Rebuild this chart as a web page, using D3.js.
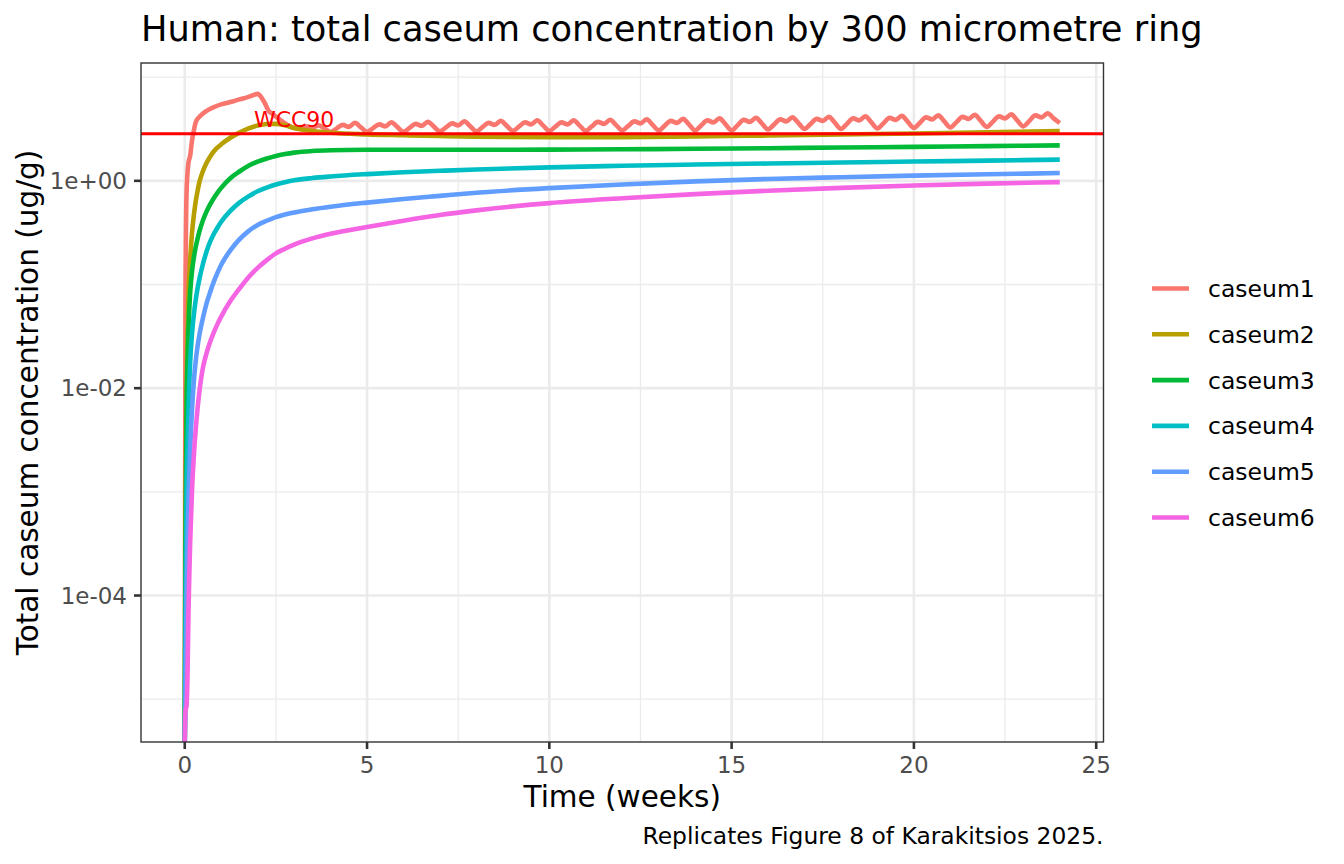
<!DOCTYPE html>
<html><head><meta charset="utf-8">
<script src="https://cdn.jsdelivr.net/npm/d3@7"></script>
<style>
body{margin:0;background:#fff;}
text{font-family:"DejaVu Sans",sans-serif;}
</style>
</head><body>
<svg id="chart" width="1344" height="864"></svg>
<script>
// ---------------- DATA ----------------
const seriesNames = ["caseum1","caseum2","caseum3","caseum4","caseum5","caseum6"];
const seriesColors = ["#F8766D","#B79F00","#00BA38","#00BFC4","#619CFF","#F564E3"];

// shared sampling times (weeks) for the smooth series caseum2..caseum6
const timeSmooth = [0,0.02,0.05,0.075,0.1,0.125,0.15,0.2,0.25,0.3,0.35,0.4,0.5,0.6,0.7,0.8,0.9,1,1.25,1.5,1.75,2,2.25,2.5,2.75,3,3.5,4,5,6,7,8,10,12,14,16,18,20,22,24];
const caseum2 = [0,5.012e-4,0.01,0.03162,0.07079,0.1202,0.1778,0.3162,0.4677,0.6310,0.7943,0.9661,1.245,1.496,1.718,1.928,2.099,2.249,2.600,2.917,3.199,3.412,3.532,3.540,3.428,3.236,3.020,2.904,2.805,2.754,2.704,2.661,2.630,2.642,2.685,2.735,2.799,2.864,2.938,3.020];
const caseum3 = [0,2.512e-4,0.00631,0.01778,0.03548,0.05888,0.08511,0.1349,0.1820,0.2291,0.2754,0.3236,0.4169,0.5070,0.5957,0.6839,0.7709,0.8551,1.059,1.230,1.396,1.531,1.641,1.738,1.811,1.871,1.941,1.972,1.991,1.995,1.995,1.995,2.000,2.014,2.037,2.065,2.094,2.128,2.163,2.198];
const caseum4 = [0,5.012e-5,1.0e-3,2.512e-3,5.623e-3,0.01096,0.01820,0.03388,0.05129,0.07079,0.09120,0.1122,0.1585,0.2089,0.2600,0.3090,0.3548,0.4027,0.5129,0.6166,0.7079,0.7943,0.8610,0.9226,0.9705,1.012,1.064,1.102,1.161,1.211,1.250,1.288,1.349,1.396,1.436,1.469,1.503,1.535,1.567,1.600];
const caseum5 = [0,1.0e-5,1.0e-4,3.162e-4,7.413e-4,1.479e-3,2.630e-3,6.310e-3,0.01175,0.01820,0.02512,0.03236,0.04786,0.06607,0.08511,0.1072,0.1303,0.1549,0.2138,0.2723,0.3273,0.3758,0.4121,0.4467,0.4732,0.4955,0.5309,0.5623,0.6166,0.6683,0.7161,0.7674,0.8511,0.9226,0.9886,1.042,1.084,1.122,1.156,1.189];
const caseum6 = [0,7.67e-6,8.71e-6,1.66e-5,6.31e-5,1.585e-4,3.39e-4,1.047e-3,2.239e-3,3.981e-3,6.31e-3,9.12e-3,0.01585,0.02188,0.02818,0.03467,0.04169,0.04898,0.06918,0.09120,0.1175,0.1445,0.1718,0.1995,0.2213,0.2427,0.2786,0.3090,0.3589,0.4121,0.4677,0.5188,0.6095,0.6792,0.7447,0.8035,0.8551,0.9016,0.9397,0.9727];

// caseum1: loading phase times, then a weekly dosing grid (6 samples per week, weeks 3..23, plus week 24)
const caseum1EarlyTimes = [0,0.01,0.02,0.05,0.1,0.15,0.2,0.25,0.3,0.4,0.5,0.6,0.8,1,1.25,1.5,1.75,2,2.1,2.2,2.3,2.4,2.6,2.8];
const caseum1WeekStarts = [3,4,5,6,7,8,9,10,11,12,13,14,15,16,17,18,19,20,21,22,23];
const caseum1WeekOffsets = [0,1/6,1/3,1/2,2/3,5/6];
const caseum1EndTime = 24;
const caseum1 = [
  0,8.3e-4,0.0705,0.775,1.475,1.762,2.456,3.067,3.662,4.137,4.471,4.73,5.145,5.46,5.75,6.10,6.45,6.90,6.38,5.58,4.73,4.44,3.91,3.50,
  3.242,3.278,3.352,3.242,3.427,3.206,
  2.967,3.206,3.465,3.315,3.622,3.278,
  2.967,3.224,3.504,3.352,3.662,3.297,
  2.967,3.242,3.543,3.390,3.703,3.333,
  3.000,3.278,3.582,3.427,3.744,3.352,
  3.000,3.297,3.622,3.465,3.786,3.390,
  3.033,3.333,3.662,3.504,3.828,3.408,
  3.033,3.333,3.662,3.504,3.828,3.408,
  3.033,3.352,3.703,3.543,3.871,3.446,
  3.067,3.390,3.744,3.582,3.914,3.465,
  3.067,3.408,3.786,3.622,3.958,3.484,
  3.067,3.427,3.828,3.662,4.002,3.504,
  3.067,3.446,3.871,3.703,4.046,3.562,
  3.136,3.504,3.914,3.744,4.091,3.602,
  3.171,3.543,3.958,3.786,4.137,3.622,
  3.171,3.562,4.002,3.828,4.183,3.662,
  3.206,3.602,4.046,3.871,4.230,3.703,
  3.242,3.642,4.091,3.914,4.277,3.744,
  3.278,3.683,4.137,3.958,4.325,3.786,
  3.315,3.724,4.183,4.002,4.373,3.828,
  3.352,3.786,4.277,4.091,4.471,4.000,
  3.61
];

const wcc90 = 2.85;
const wccLabel = "WCC90";
const wccLabelTime = 3;

const xTickValues = [0,5,10,15,20,25];
const yTickValues = [1e-4,1e-2,1];
const yTickLabels = ["1e-04","1e-02","1e+00"];

const titleText = "Human: total caseum concentration by 300 micrometre ring";
const xTitle = "Time (weeks)";
const yTitle = "Total caseum concentration (ug/g)";
const captionText = "Replicates Figure 8 of Karakitsios 2025.";

// ---------------- BUILD ----------------
const caseum1Times = caseum1EarlyTimes
  .concat(caseum1WeekStarts.flatMap(w => caseum1WeekOffsets.map(o => w + o)))
  .concat([caseum1EndTime]);

const seriesValues = [caseum1, caseum2, caseum3, caseum4, caseum5, caseum6];
const seriesTimes = [caseum1Times, timeSmooth, timeSmooth, timeSmooth, timeSmooth, timeSmooth];
const series = seriesNames.map((n, i) => ({
  name: n, color: seriesColors[i],
  pts: seriesTimes[i].map((t, j) => ({t, v: seriesValues[i][j]}))
}));

const P = {left: 141, right: 1103.5, top: 63, bottom: 742};

const allT = series.flatMap(s => s.pts.map(p => p.t));
const tExt = d3.extent(allT);
const tPad = (tExt[1] - tExt[0]) * 0.05;
const x = d3.scaleLinear().domain([tExt[0] - tPad, tExt[1] + tPad]).range([P.left, P.right]);

const posVals = series.flatMap(s => s.pts.map(p => p.v)).concat([wcc90]).filter(v => v > 0);
const lLo = Math.log10(d3.min(posVals)), lHi = Math.log10(d3.max(posVals));
const lPad = (lHi - lLo) * 0.05;
const y = d3.scaleLog().domain([10 ** (lLo - lPad), 10 ** (lHi + lPad)]).range([P.bottom, P.top]);
const yPos = v => v > 0 ? y(v) : P.bottom;   // zero (log -Inf) is squished to the panel edge

const svg = d3.select("#chart");
svg.append("rect").attr("width",1344).attr("height",864).attr("fill","#fff");

const defs = svg.append("defs");
defs.append("clipPath").attr("id","panelClip").append("rect")
  .attr("x",P.left).attr("y",P.top).attr("width",P.right-P.left).attr("height",P.bottom-P.top);

// grid
const grid = svg.append("g");
const xMinor = d3.range(xTickValues.length - 1).map(i => (xTickValues[i] + xTickValues[i+1]) / 2)
  .filter(v => v >= x.domain()[0] && v <= x.domain()[1]);
const yLogTicks = yTickValues.map(Math.log10);
const yStep = yLogTicks[1] - yLogTicks[0];
const yMinor = [yLogTicks[0] - yStep/2].concat(yLogTicks.map(l => l + yStep/2)).map(l => 10 ** l)
  .filter(v => v >= y.domain()[0] && v <= y.domain()[1]);

grid.selectAll(".xmin").data(xMinor).enter().append("line")
  .attr("x1",d=>x(d)).attr("x2",d=>x(d)).attr("y1",P.top).attr("y2",P.bottom)
  .attr("stroke","#EBEBEB").attr("stroke-width",1.3);
grid.selectAll(".ymin").data(yMinor).enter().append("line")
  .attr("x1",P.left).attr("x2",P.right).attr("y1",d=>y(d)).attr("y2",d=>y(d))
  .attr("stroke","#EBEBEB").attr("stroke-width",1.3);
grid.selectAll(".xmaj").data(xTickValues.filter(v => v >= x.domain()[0] && v <= x.domain()[1])).enter().append("line")
  .attr("x1",d=>x(d)).attr("x2",d=>x(d)).attr("y1",P.top).attr("y2",P.bottom)
  .attr("stroke","#EBEBEB").attr("stroke-width",2.6);
grid.selectAll(".ymaj").data(yTickValues).enter().append("line")
  .attr("x1",P.left).attr("x2",P.right).attr("y1",d=>y(d)).attr("y2",d=>y(d))
  .attr("stroke","#EBEBEB").attr("stroke-width",2.6);

// lines
const line = d3.line().x(d => x(d.t)).y(d => yPos(d.v)).curve(d3.curveMonotoneX);
const lines = svg.append("g").attr("clip-path","url(#panelClip)");
series.forEach(s => {
  lines.append("path").datum(s.pts).attr("d", line)
    .attr("fill","none").attr("stroke", s.color).attr("stroke-width",4.6)
    .attr("stroke-linejoin","round").attr("stroke-linecap","butt");
});

// WCC90 reference line and label
lines.append("line").attr("x1",P.left).attr("x2",P.right)
  .attr("y1",y(wcc90)).attr("y2",y(wcc90)).attr("stroke","#FF0000").attr("stroke-width",3);
lines.append("text").attr("x",x(wccLabelTime)).attr("y",y(wcc90)-6.5)
  .attr("text-anchor","middle").attr("fill","#FF0000").attr("font-size",22).text(wccLabel);

// panel border
svg.append("rect").attr("x",P.left).attr("y",P.top).attr("width",P.right-P.left).attr("height",P.bottom-P.top)
  .attr("fill","none").attr("stroke","#333333").attr("stroke-width",1.4);

// axes
const ax = svg.append("g");
xTickValues.forEach(v => {
  ax.append("line").attr("x1",x(v)).attr("x2",x(v)).attr("y1",P.bottom).attr("y2",P.bottom+7)
    .attr("stroke","#333333").attr("stroke-width",2.6);
  ax.append("text").attr("x",x(v)).attr("y",773).attr("text-anchor","middle")
    .attr("fill","#4D4D4D").attr("font-size",23).text(v);
});
yTickValues.forEach((v,i) => {
  ax.append("line").attr("x1",P.left-7).attr("x2",P.left).attr("y1",y(v)).attr("y2",y(v))
    .attr("stroke","#333333").attr("stroke-width",2.6);
  ax.append("text").attr("x",P.left-14).attr("y",y(v)).attr("dy","0.36em").attr("text-anchor","end")
    .attr("fill","#4D4D4D").attr("font-size",23).text(yTickLabels[i]);
});

// titles
svg.append("text").attr("x",P.left).attr("y",41).attr("font-size",35.2).attr("fill","#000").text(titleText);
svg.append("text").attr("x",(P.left+P.right)/2).attr("y",807).attr("text-anchor","middle")
  .attr("font-size",29.5).attr("fill","#000").text(xTitle);
svg.append("text").attr("transform",`translate(38,${(P.top+P.bottom)/2}) rotate(-90)`)
  .attr("text-anchor","middle").attr("font-size",29.5).attr("fill","#000").text(yTitle);
svg.append("text").attr("x",P.right).attr("y",844).attr("text-anchor","end")
  .attr("font-size",23.4).attr("fill","#000").text(captionText);

// legend
const leg = svg.append("g");
series.forEach((s,i) => {
  const cy = 288.5 + i*45.8;
  leg.append("line").attr("x1",1152).attr("x2",1189).attr("y1",cy).attr("y2",cy)
    .attr("stroke",s.color).attr("stroke-width",4.6);
  leg.append("text").attr("x",1208).attr("y",cy).attr("dy","0.36em")
    .attr("font-size",23.5).attr("fill","#000").text(s.name);
});
</script>
</body></html>
